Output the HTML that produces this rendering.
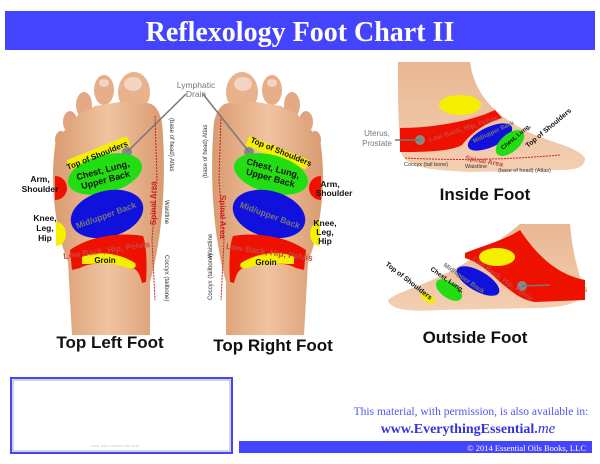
<!DOCTYPE html>
<html><head><meta charset="utf-8"><style>
html,body{margin:0;padding:0;background:#fff;}
svg{display:block;}
</style></head><body>
<svg width="600" height="464" viewBox="0 0 600 464" xmlns="http://www.w3.org/2000/svg" font-family="Liberation Sans, sans-serif">
<defs>
<linearGradient id="sk" x1="0" y1="0" x2="1" y2="0">
<stop offset="0" stop-color="#d99a70"/><stop offset="0.5" stop-color="#f0c4a0"/><stop offset="1" stop-color="#d99a70"/>
</linearGradient>
<linearGradient id="sk2" x1="0" y1="0" x2="0" y2="1">
<stop offset="0" stop-color="#e9b792"/><stop offset="1" stop-color="#f3cfb1"/>
</linearGradient>
<g id="foot">
<ellipse cx="134" cy="92" rx="16" ry="20" fill="#e8b28c"/>
<ellipse cx="133" cy="84" rx="9" ry="7" fill="#f3d4c2"/>
<ellipse cx="104" cy="90" rx="10" ry="15" fill="#e6ae88"/>
<ellipse cx="104" cy="83" rx="5" ry="4" fill="#f2d2c0"/>
<ellipse cx="84" cy="105" rx="8" ry="13" fill="#e3a984"/>
<ellipse cx="70" cy="122" rx="7" ry="11" fill="#e0a580"/>
<ellipse cx="61" cy="140" rx="6" ry="9" fill="#dc9f7a"/>
<path d="M56,140 C49,180 55,230 68,262 L72,335 L150,335 L150,282 C162,240 167,180 162,122 C158,105 150,100 140,105 L120,102 L95,106 L78,115 L65,130 Z" fill="url(#sk)"/>
<rect x="66" y="148" width="65" height="10" fill="#f5f000" transform="rotate(-22 98 153)"/>
<circle cx="127" cy="152" r="5" fill="#888"/>
<ellipse cx="105" cy="174" rx="38" ry="19" fill="#22dd11" transform="rotate(-15 105 174)"/>
<path d="M55,176 A12,12 0 0 1 55,200 Z" fill="#ee1100"/>
<ellipse cx="107" cy="214" rx="37" ry="23" fill="#1111dd" transform="rotate(-15 107 214)"/>
<path d="M56,222 A10,12 0 0 1 56,246 Z" fill="#f5f000"/>
<path d="M70,250 C90,236 120,232 143,236 C147,245 147,270 146,282 L142,283 C140,275 138,270 133,268 C110,262 90,262 80,268 L72,270 Z" fill="#ee1100"/>
<path d="M82,259 C95,252 120,255 135,265 C138,270 132,272 125,269 C110,264 95,266 82,266 Z" fill="#f5f000" transform="translate(0,-2)"/>
<path d="M155,116 L157,180 L152,240 L155,300" fill="none" stroke="#cc2222" stroke-width="1" stroke-dasharray="2,1"/>
</g>
</defs>
<rect x="5" y="11" width="590" height="39" fill="#4444ff"/>
<text x="300" y="41" text-anchor="middle" font-family="Liberation Serif, serif" font-weight="bold" font-size="28" fill="#fff">Reflexology Foot Chart II</text>

<use href="#foot"/>
<use href="#foot" transform="translate(376,0) scale(-1,1)"/>

<g font-weight="bold" font-size="8" fill="#111">
<text transform="translate(68,170) rotate(-22)">Top of Shoulders</text>
<text transform="translate(250,142) rotate(22)">Top of Shoulders</text>
<g text-anchor="middle">
<text transform="translate(105,178) rotate(-15)" font-size="9"><tspan x="0" y="-5">Chest, Lung,</tspan><tspan x="0" y="5">Upper Back</tspan></text>
<text transform="translate(271,176) rotate(15)" font-size="9"><tspan x="0" y="-5">Chest, Lung,</tspan><tspan x="0" y="5">Upper Back</tspan></text>
<text x="105" y="263" font-size="8">Groin</text>
<text x="266" y="265" font-size="8">Groin</text>
<text x="460" y="108" font-size="8">Groin</text>
<text x="497" y="260" font-size="8">Groin</text>
</g>
<g font-size="8.5" text-anchor="middle">
<text x="40" y="182">Arm,</text><text x="40" y="192">Shoulder</text>
<text x="45" y="221">Knee,</text><text x="45" y="231">Leg,</text><text x="45" y="241">Hip</text>
<text x="330" y="187">Arm,</text><text x="334" y="196">Shoulder</text>
<text x="325" y="226">Knee,</text><text x="325" y="235">Leg,</text><text x="325" y="244">Hip</text>
</g>
</g>
<g font-weight="bold" font-size="8.5" fill="#777" text-anchor="middle">
<text transform="translate(107,218) rotate(-20)">Mid/upper Back</text>
<text transform="translate(269,218) rotate(20)">Mid/upper Back</text>
<text transform="translate(107,253) rotate(-8)" fill="#c44">Low Back, Hip, Pelvis</text>
<text transform="translate(269,255) rotate(8)" fill="#c44">Low Back, Hip, Pelvis</text>
<text x="196" y="88" font-weight="normal">Lymphatic</text>
<text x="196" y="97" font-weight="normal">Drain</text>
</g>
<line x1="127" y1="152" x2="186" y2="94" stroke="#777" stroke-width="1.5"/>
<line x1="249" y1="152" x2="203" y2="94" stroke="#777" stroke-width="1.5"/>
<g font-size="6" fill="#333">
<text transform="translate(170,118) rotate(90)">(base of head) Atlas</text>
<text transform="translate(165,200) rotate(90)">Waistline</text>
<text transform="translate(165,255) rotate(90)">Coccyx (tailbone)</text>
<text transform="translate(207,178) rotate(-90)">(base of head) Atlas</text>
<text transform="translate(212,258) rotate(-90)">Waistline</text>
<text transform="translate(212,300) rotate(-90)">Coccyx (tailbone)</text>
</g>
<g font-size="8" font-weight="bold" fill="#cc2222">
<text transform="translate(156,225) rotate(-90)">Spinal Area</text>
<text transform="translate(220,195) rotate(90)">Spinal Area</text>
</g>
<g font-weight="bold" font-size="17" fill="#111" text-anchor="middle">
<text x="110" y="348">Top Left Foot</text>
<text x="273" y="351">Top Right Foot</text>
<text x="485" y="200">Inside Foot</text>
<text x="475" y="343">Outside Foot</text>
</g>

<!-- inside foot -->
<path d="M398,62 L470,62 C474,90 490,115 535,135 C560,145 578,148 585,158 C585,168 575,170 560,170 L470,172 C430,170 410,168 402,155 C398,140 398,100 398,62 Z" fill="url(#sk2)"/>
<path d="M400,128 C430,128 470,122 495,110 L502,118 C480,125 470,135 462,145 C450,152 420,152 400,152 Z" fill="#ee1100"/>
<ellipse cx="460" cy="105" rx="21" ry="10" fill="#f5f000"/>
<ellipse cx="490" cy="137" rx="24" ry="10" fill="#1111dd" transform="rotate(-25 490 137)"/>
<ellipse cx="510" cy="143" rx="17" ry="9" fill="#22dd11" transform="rotate(-40 510 143)"/>
<circle cx="420" cy="140" r="5" fill="#888"/>
<line x1="395" y1="140" x2="420" y2="140" stroke="#777" stroke-width="1.5"/>
<path d="M405,158 Q480,162 560,155" fill="none" stroke="#cc2222" stroke-width="1" stroke-dasharray="2,1"/>
<g font-size="8" fill="#777" text-anchor="middle"><text x="377" y="136">Uterus,</text><text x="377" y="146">Prostate</text>
<text x="569" y="282">Ovary,</text><text x="572" y="292">Testicles</text></g>
<text transform="translate(430,142) rotate(-18)" font-size="7" font-weight="bold" fill="#c44">Low Back, Hip, Pelvis</text>
<text transform="translate(474,143) rotate(-25)" font-size="6" font-weight="bold" fill="#777">Mid/upper Back</text>
<text transform="translate(503,150) rotate(-40)" font-size="6" font-weight="bold" fill="#111">Chest, Lung,</text>
<text transform="translate(528,148) rotate(-40)" font-size="7" font-weight="bold" fill="#111">Top of Shoulders</text>
<text transform="translate(465,160) rotate(10)" font-size="7" font-weight="bold" fill="#c44">Spinal Area</text>
<g font-size="5.5" fill="#333"><text x="404" y="166">Coccyx (tail bone)</text><text x="465" y="168">Waistline</text><text x="498" y="172">(base of head) (Atlas)</text></g>

<!-- outside foot -->
<path d="M388,300 C400,290 430,285 470,260 C495,245 510,232 520,224 L570,224 C572,250 578,272 585,292 C580,305 560,307 540,308 L440,310 C410,312 390,310 388,300 Z" fill="url(#sk2)"/>
<path d="M465,253 C485,245 505,240 520,230 C540,260 560,275 585,280 L585,300 L535,302 C520,300 510,290 500,282 C490,272 478,262 465,258 Z" fill="#ee1100"/>
<ellipse cx="497" cy="257" rx="18" ry="9" fill="#f5f000"/>
<ellipse cx="478" cy="281" rx="24" ry="10" fill="#1111dd" transform="rotate(30 478 281)"/>
<ellipse cx="449" cy="290" rx="15" ry="8" fill="#22dd11" transform="rotate(35 449 290)"/>
<ellipse cx="428" cy="298" rx="8" ry="4" fill="#f5f000" transform="rotate(30 428 298)"/>
<circle cx="522" cy="286" r="5" fill="#888"/>
<line x1="522" y1="286" x2="550" y2="285" stroke="#777" stroke-width="1.5"/>
<text transform="translate(385,265) rotate(38)" font-size="7" font-weight="bold" fill="#111">Top of Shoulders</text>
<text transform="translate(430,270) rotate(35)" font-size="6.5" font-weight="bold" fill="#111">Chest, Lung,</text>
<text transform="translate(443,266) rotate(35)" font-size="6.5" font-weight="bold" fill="#777">Mid/upper Back</text>
<text transform="translate(472,260) rotate(35)" font-size="7" font-weight="bold" fill="#c44">Low Back, Hip, Pelvis</text>

<!-- bottom -->
<rect x="11" y="378" width="221" height="75" fill="#fff" stroke="#4444ff" stroke-width="2"/>
<rect x="13" y="380" width="217" height="71" fill="none" stroke="#aaa" stroke-width="1"/>
<text x="115" y="447" text-anchor="middle" font-size="4" fill="#ccc">enter your contact info here</text>
<text x="471" y="415" text-anchor="middle" font-family="Liberation Serif, serif" font-size="11.5" fill="#5555ee">This material, with permission, is also available in:</text>
<text x="468" y="433" text-anchor="middle" font-family="Liberation Serif, serif" font-weight="bold" font-size="14" fill="#3333dd">www.EverythingEssential.<tspan font-style="italic" font-weight="normal" font-size="15">me</tspan></text>
<rect x="239" y="441" width="353" height="12" fill="#4444ff"/>
<text x="586" y="451" text-anchor="end" font-family="Liberation Serif, serif" font-size="8.5" fill="#fff">© 2014 Essential Oils Books, LLC</text>
</svg>
</body></html>
